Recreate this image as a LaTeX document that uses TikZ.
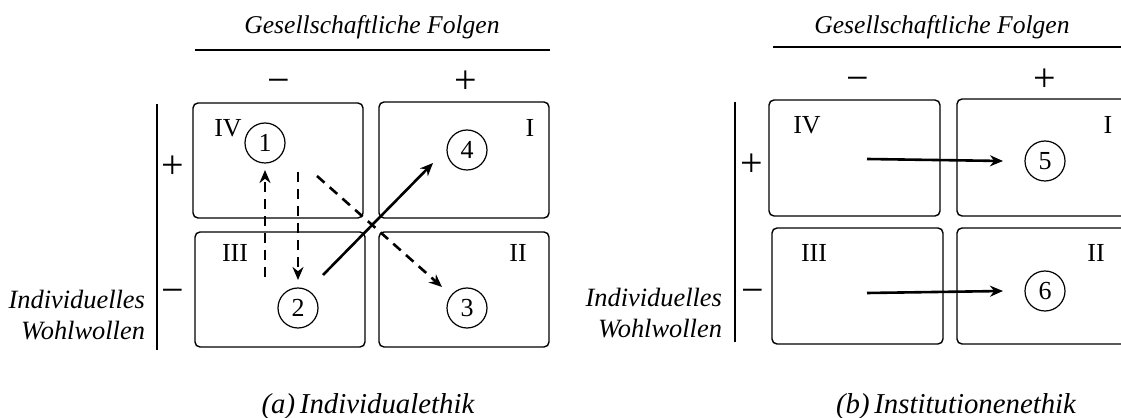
\documentclass[tikz,border=0pt]{standalone}
\usepackage{fontspec}
\setmainfont{Liberation Serif}
\usetikzlibrary{calc,arrows.meta}
\tikzset{>={Stealth[length=6.5pt,width=5.5pt]}}
\tikzset{
  feld/.style={draw, line width=0.7pt, rounded corners=2.5pt},
  kreis/.style={circle, draw, line width=0.6pt, minimum size=20pt, inner sep=0pt, font=\fontsize{13}{13}\selectfont},
  quad/.style={font=\fontsize{13}{13}\selectfont},
  sign/.style={font=\fontsize{20}{20}\selectfont},
  achse/.style={font=\itshape\fontsize{12.8}{15}\selectfont},
  titel/.style={font=\itshape\fontsize{14.4}{16}\selectfont},
  pfeil/.style={->, line width=1.3pt},
  strich/.style={->, line width=1.3pt, dash pattern=on 5pt off 3.5pt}
}
\newcommand{\minuszeichen}{\vphantom{+}−}

\begin{document}
\begin{tikzpicture}[x=0.5pt,y=0.5pt]
    \clip (0,0) rectangle (1121,418);
    \fill[white] (0,0) rectangle (1121,418);
    % (a) Individualethik
      \node[achse] (folgenA) at (372,391) {Gesellschaftliche Folgen};
      \draw[line width=0.7pt] (195,368)--(550,368);
      \node[sign] (minusA) at (279,336) {\minuszeichen};
      \node[sign] (plusA) at (466,336) {+};
      \draw[line width=0.7pt] (157,314)--(157,68);
      \node[sign] (plusLA) at (173,251) {+};
      \node[sign] (minusLA) at (173,126) {\minuszeichen};
      \node[achse, font=\itshape\fontsize{13.2}{15.5}\selectfont, anchor=east, align=right] (wohlA) at (152,103) {Individuelles\\Wohlwollen};
      \draw[feld] (193,315) rectangle (363,200);
      \draw[feld] (379,316) rectangle (549,200);
      \draw[feld] (195,186) rectangle (365,71);
      \draw[feld] (379,186) rectangle (549,71);
      \node[quad] (IVa) at (228,290) {IV};
      \node[quad] (Ia) at (530,290) {I};
      \node[quad] (IIIa) at (235,165) {III};
      \node[quad] (IIa) at (518,165) {II};
      \node[kreis] (k1) at (265,275) {1};
      \node[kreis] (k4) at (467,268) {4};
      \node[kreis] (k2) at (298,110) {2};
      \node[kreis] (k3) at (467,110) {3};
      \coordinate (auf1) at (265,141);
      \coordinate (unter1) at (265,248);
      \coordinate (ab1) at (298,246);
      \coordinate (ueber2) at (298,138);
      \coordinate (quer1) at (317,242);
      \coordinate (vor3) at (442,131);
      \coordinate (von2) at (323,143);
      \coordinate (vor4) at (433,255);
      \draw[strich] (auf1)--(unter1);
      \draw[strich] (ab1)--(ueber2);
      \draw[strich] (quer1)--(vor3);
      \draw[pfeil] (von2)--(vor4);
      \node[titel] (capA) at (368,11) {(a)\,Individualethik};
    % (b) Institutionenethik
      \node[achse] (folgenB) at (942,391) {Gesellschaftliche Folgen};
      \draw[line width=0.7pt] (773,371)--(1121,371);
      \node[sign] (minusB) at (858,338) {\minuszeichen};
      \node[sign] (plusB) at (1045,338) {+};
      \draw[line width=0.7pt] (735,316)--(735,76);
      \node[sign] (plusLB) at (752,253) {+};
      \node[sign] (minusLB) at (753,126) {\minuszeichen};
      \node[achse, font=\itshape\fontsize{13.2}{15.5}\selectfont, anchor=east, align=right] (wohlB) at (729,105) {Individuelles\\Wohlwollen};
      \draw[feld] (769,318) rectangle (940,202);
      \draw[feld] (957,319) rectangle (1135,202);
      \draw[feld] (772,190) rectangle (943,74);
      \draw[feld] (957,190) rectangle (1135,74);
      \node[quad] (IVb) at (807,293) {IV};
      \node[quad] (Ib) at (1108,293) {I};
      \node[quad] (IIIb) at (814,165) {III};
      \node[quad] (IIb) at (1096,165) {II};
      \node[kreis] (k5) at (1045,257) {5};
      \node[kreis] (k6) at (1045,127) {6};
      \coordinate (start5) at (867,259);
      \coordinate (start6) at (867,125);
      \draw[pfeil] (start5)--(k5.west-|1003,0);
      \draw[pfeil] (start6)--(k6.west-|1003,0);
      \node[titel] (capB) at (956,11) {(b)\,Institutionenethik};
\end{tikzpicture}
\end{document}
